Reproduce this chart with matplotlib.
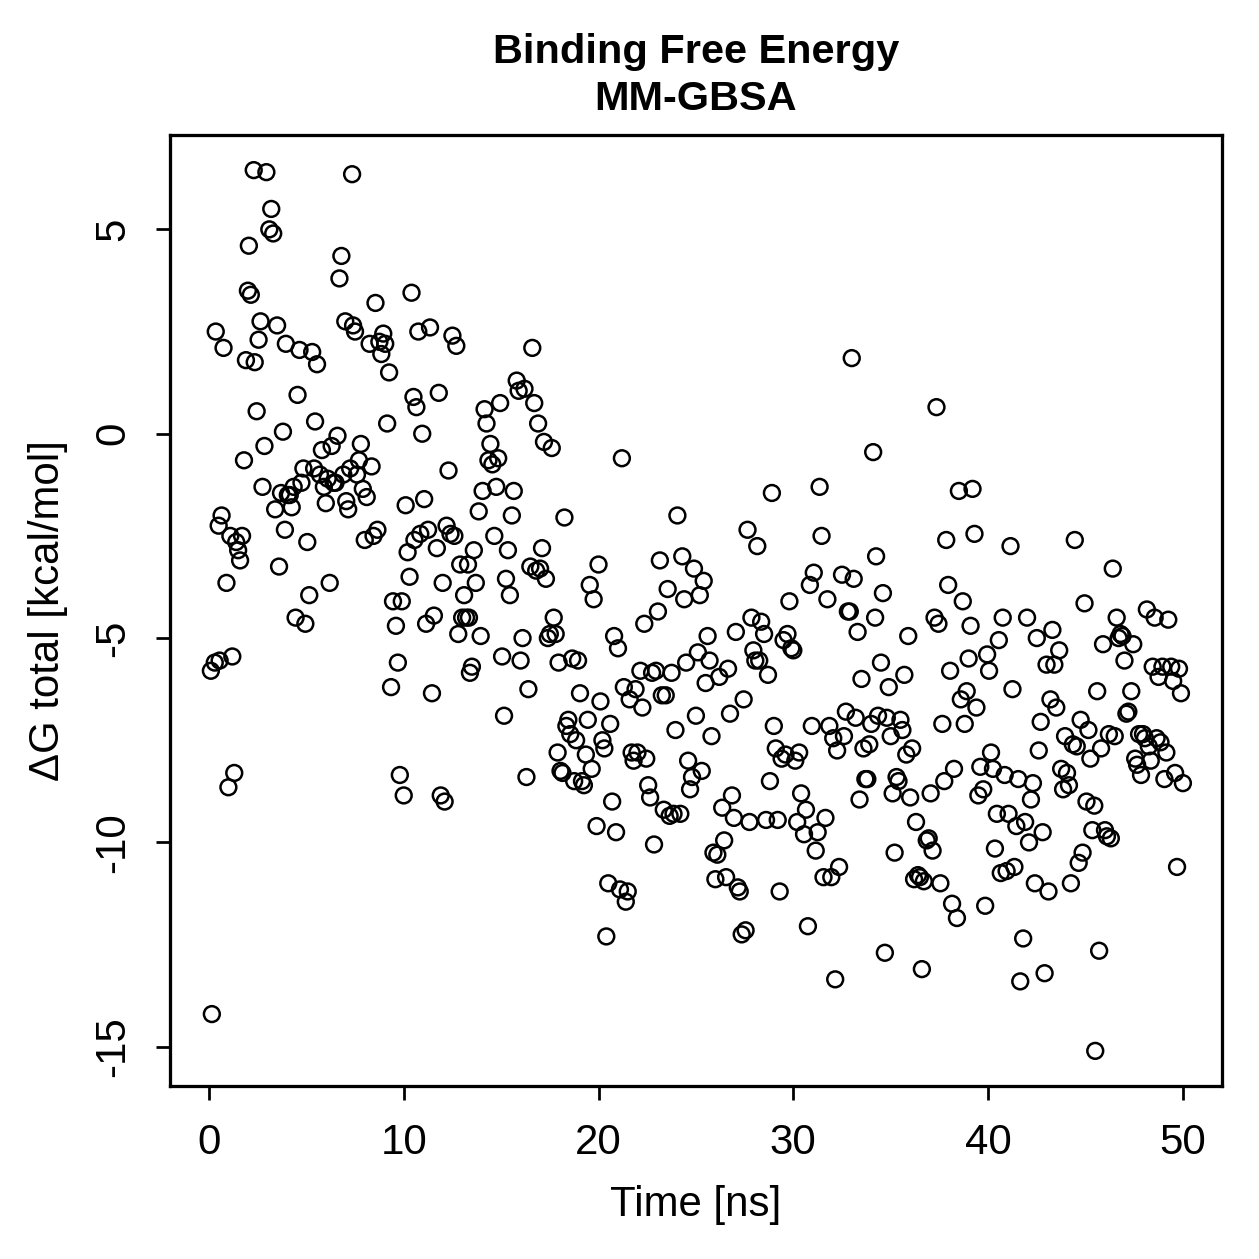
import numpy as np
import matplotlib
matplotlib.use("Agg")
from matplotlib import pyplot as plt

# time [ns] and dG total [kcal/mol]
time_ns = [
    0.1, 0.15, 0.3, 0.35, 0.5, 0.55, 0.65, 0.75, 0.9, 1.0, 1.1, 1.2, 1.3, 1.4, 1.5, 1.6, 1.7, 1.8, 1.9, 2.0,
    2.05, 2.15, 2.3, 2.35, 2.45, 2.55, 2.65, 2.75, 2.85, 2.95, 3.1, 3.2, 3.3, 3.4, 3.5, 3.6, 3.7, 3.8, 3.9, 3.95,
    4.05, 4.15, 4.25, 4.35, 4.45, 4.55, 4.65, 4.75, 4.85, 4.95, 5.05, 5.15, 5.3, 5.4, 5.45, 5.55, 5.7, 5.8, 5.9, 6.0,
    6.1, 6.2, 6.3, 6.4, 6.5, 6.6, 6.7, 6.8, 6.9, 7.0, 7.05, 7.15, 7.25, 7.35, 7.4, 7.5, 7.6, 7.7, 7.8, 7.9,
    8.0, 8.1, 8.25, 8.35, 8.45, 8.55, 8.65, 8.75, 8.85, 8.95, 9.05, 9.15, 9.25, 9.35, 9.45, 9.6, 9.7, 9.8, 9.9, 10.0,
    10.1, 10.2, 10.3, 10.4, 10.5, 10.55, 10.65, 10.75, 10.85, 10.95, 11.05, 11.15, 11.25, 11.35, 11.45, 11.55, 11.7, 11.8, 11.9, 12.0,
    12.1, 12.2, 12.3, 12.4, 12.5, 12.6, 12.7, 12.8, 12.9, 13.0, 13.1, 13.2, 13.3, 13.35, 13.4, 13.5, 13.6, 13.7, 13.85, 13.95,
    14.05, 14.15, 14.25, 14.35, 14.45, 14.55, 14.65, 14.75, 14.85, 14.95, 15.05, 15.15, 15.25, 15.35, 15.45, 15.55, 15.65, 15.8, 15.9, 16.0,
    16.1, 16.2, 16.3, 16.4, 16.5, 16.6, 16.7, 16.8, 16.9, 17.0, 17.1, 17.2, 17.3, 17.4, 17.5, 17.6, 17.7, 17.8, 17.9, 17.95,
    18.05, 18.15, 18.25, 18.35, 18.45, 18.55, 18.65, 18.75, 18.85, 18.95, 19.05, 19.15, 19.25, 19.35, 19.45, 19.55, 19.65, 19.75, 19.9, 20.0,
    20.1, 20.2, 20.3, 20.4, 20.5, 20.6, 20.7, 20.8, 20.9, 21.0, 21.1, 21.2, 21.3, 21.4, 21.5, 21.6, 21.7, 21.8, 21.9, 22.0,
    22.15, 22.25, 22.35, 22.45, 22.55, 22.65, 22.75, 22.85, 22.95, 23.05, 23.15, 23.25, 23.35, 23.45, 23.55, 23.65, 23.75, 23.85, 23.95, 24.05,
    24.2, 24.3, 24.4, 24.5, 24.6, 24.7, 24.8, 24.9, 25.0, 25.1, 25.2, 25.3, 25.4, 25.5, 25.6, 25.7, 25.8, 25.9, 26.0, 26.1,
    26.2, 26.35, 26.45, 26.55, 26.65, 26.75, 26.85, 26.95, 27.05, 27.15, 27.25, 27.35, 27.45, 27.55, 27.65, 27.75, 27.85, 27.95, 28.05, 28.15,
    28.25, 28.35, 28.5, 28.6, 28.7, 28.8, 28.9, 29.0, 29.1, 29.2, 29.3, 29.4, 29.5, 29.6, 29.7, 29.8, 29.9, 30.0, 30.1, 30.2,
    30.3, 30.4, 30.55, 30.65, 30.75, 30.85, 30.95, 31.05, 31.15, 31.25, 31.35, 31.45, 31.55, 31.65, 31.75, 31.85, 31.95, 32.05, 32.15, 32.25,
    32.35, 32.5, 32.6, 32.7, 32.8, 32.9, 33.0, 33.1, 33.2, 33.3, 33.4, 33.5, 33.6, 33.7, 33.8, 33.9, 34.0, 34.1, 34.2, 34.25,
    34.35, 34.5, 34.6, 34.7, 34.8, 34.9, 35.0, 35.1, 35.2, 35.3, 35.4, 35.5, 35.6, 35.7, 35.8, 35.9, 36.0, 36.1, 36.2, 36.3,
    36.4, 36.5, 36.6, 36.7, 36.85, 36.95, 37.05, 37.15, 37.25, 37.35, 37.45, 37.55, 37.65, 37.75, 37.85, 37.95, 38.05, 38.15, 38.25, 38.4,
    38.5, 38.6, 38.7, 38.8, 38.9, 39.0, 39.1, 39.2, 39.3, 39.4, 39.5, 39.6, 39.75, 39.85, 39.95, 40.05, 40.15, 40.25, 40.35, 40.45,
    40.55, 40.65, 40.75, 40.85, 40.95, 41.05, 41.15, 41.25, 41.35, 41.45, 41.55, 41.65, 41.8, 41.9, 42.0, 42.1, 42.2, 42.3, 42.4, 42.5,
    42.6, 42.7, 42.8, 42.9, 43.0, 43.1, 43.2, 43.3, 43.4, 43.5, 43.65, 43.75, 43.85, 43.95, 44.05, 44.15, 44.25, 44.35, 44.45, 44.55,
    44.65, 44.75, 44.85, 44.95, 45.05, 45.15, 45.25, 45.35, 45.45, 45.5, 45.6, 45.7, 45.8, 45.9, 46.0, 46.1, 46.2, 46.3, 46.4, 46.5,
    46.6, 46.7, 46.8, 46.9, 47.0, 47.1, 47.2, 47.35, 47.45, 47.55, 47.65, 47.75, 47.85, 47.95, 48.05, 48.15, 48.25, 48.35, 48.45, 48.55,
    48.65, 48.75, 48.85, 48.95, 49.05, 49.15, 49.25, 49.4, 49.5, 49.6, 49.7, 49.8, 49.9, 50.0,
]

dg_total = [
    -5.8, -14.2, -5.6, 2.5, -2.25, -5.55, -2.0, 2.1, -3.65, -8.65, -2.5, -5.45, -8.3, -2.65, -2.85, -3.1, -2.5, -0.65, 1.8, 3.5,
    4.6, 3.4, 6.45, 1.75, 0.55, 2.3, 2.75, -1.3, -0.3, 6.4, 5.0, 5.5, 4.9, -1.85, 2.65, -3.25, -1.45, 0.05, -2.35, 2.2,
    -1.5, -1.5, -1.8, -1.3, -4.5, 0.95, 2.05, -1.2, -0.85, -4.65, -2.65, -3.95, 2.0, -0.85, 0.3, 1.7, -1.0, -0.4, -1.3, -1.7,
    -1.1, -3.65, -0.3, -1.2, -1.2, -0.05, 3.8, 4.35, -1.0, 2.75, -1.65, -1.85, -0.85, 6.35, 2.65, 2.5, -1.0, -0.65, -0.25, -1.35,
    -2.6, -1.55, 2.2, -0.8, -2.5, 3.2, -2.35, 2.25, 1.95, 2.45, 2.2, 0.25, 1.5, -6.2, -4.1, -4.7, -5.6, -8.35, -4.1, -8.85,
    -1.75, -2.9, -3.5, 3.45, 0.9, -2.6, 0.65, 2.5, -2.45, 0.0, -1.6, -4.65, -2.35, 2.6, -6.35, -4.45, -2.8, 1.0, -8.85, -3.65,
    -9.0, -2.25, -0.9, -2.45, 2.4, -2.5, 2.15, -4.9, -3.2, -4.5, -3.95, -4.5, -3.2, -4.5, -5.85, -5.7, -2.85, -3.65, -1.9, -4.95,
    -1.4, 0.6, 0.25, -0.65, -0.25, -0.75, -2.5, -1.3, -0.6, 0.75, -5.45, -6.9, -3.55, -2.85, -3.95, -2.0, -1.4, 1.3, 1.05, -5.55,
    -5.0, 1.1, -8.4, -6.25, -3.25, 2.1, 0.75, -3.35, 0.25, -3.3, -2.8, -0.2, -3.55, -5.0, -4.9, -0.35, -4.5, -4.9, -7.8, -5.6,
    -8.25, -8.3, -2.05, -7.15, -7.0, -7.35, -5.5, -8.5, -7.5, -5.55, -6.35, -8.5, -8.6, -7.85, -7.0, -3.7, -8.2, -4.05, -9.6, -3.2,
    -6.55, -7.5, -7.7, -12.3, -11.0, -7.1, -9.0, -4.95, -9.75, -5.25, -11.15, -0.6, -6.2, -11.45, -11.2, -6.5, -7.8, -8.0, -6.25, -7.8,
    -5.8, -6.7, -4.65, -7.95, -8.6, -8.9, -5.85, -10.05, -5.8, -4.35, -3.1, -6.4, -9.2, -6.4, -3.8, -9.35, -5.85, -9.3, -7.25, -2.0,
    -9.3, -3.0, -4.05, -5.6, -8.0, -8.7, -8.4, -3.3, -6.9, -5.35, -3.95, -8.25, -3.6, -6.1, -4.95, -5.55, -7.4, -10.25, -10.9, -10.3,
    -5.95, -9.15, -9.95, -10.85, -5.75, -6.85, -8.85, -9.4, -4.85, -11.1, -11.2, -12.25, -6.5, -12.15, -2.35, -9.5, -4.5, -5.3, -5.55, -2.75,
    -5.55, -4.6, -4.9, -9.45, -5.9, -8.5, -1.45, -7.15, -7.7, -9.45, -11.2, -7.95, -5.05, -7.85, -4.9, -4.1, -5.25, -5.3, -8.0, -9.5,
    -7.8, -8.8, -9.8, -9.2, -12.05, -3.7, -7.15, -3.4, -10.2, -9.75, -1.3, -2.5, -10.85, -9.4, -4.05, -7.15, -10.85, -7.45, -13.35, -7.75,
    -10.6, -3.45, -7.4, -6.8, -4.35, -4.35, 1.85, -3.55, -6.95, -4.85, -8.95, -6.0, -7.7, -8.45, -8.45, -7.6, -7.1, -0.45, -4.5, -3.0,
    -6.9, -5.6, -3.9, -12.7, -6.95, -6.2, -7.4, -8.8, -10.25, -8.4, -8.5, -7.0, -7.25, -5.9, -7.85, -4.95, -8.9, -7.7, -10.9, -9.5,
    -10.8, -10.85, -13.1, -10.95, -9.95, -9.9, -8.8, -10.2, -4.5, 0.65, -4.65, -11.0, -7.1, -8.5, -2.6, -3.7, -5.8, -11.5, -8.2, -11.85,
    -1.4, -6.5, -4.1, -7.1, -6.3, -5.5, -4.7, -1.35, -2.45, -6.7, -8.85, -8.15, -8.7, -11.55, -5.4, -5.8, -7.8, -8.2, -10.15, -9.3,
    -5.05, -10.75, -4.5, -8.35, -10.7, -9.3, -2.75, -6.25, -10.6, -9.6, -8.45, -13.4, -12.35, -9.5, -4.5, -10.0, -8.95, -8.55, -11.0, -5.0,
    -7.75, -7.05, -9.75, -13.2, -5.65, -11.2, -6.5, -4.8, -5.65, -6.7, -5.3, -8.2, -8.7, -7.4, -8.3, -8.6, -11.0, -7.6, -2.6, -7.65,
    -10.5, -7.0, -10.25, -4.15, -9.0, -7.25, -7.95, -9.7, -9.1, -15.1, -6.3, -12.65, -7.7, -5.15, -9.7, -9.85, -7.35, -9.9, -3.3, -7.4,
    -4.5, -5.0, -4.9, -4.95, -5.55, -6.85, -6.8, -6.3, -5.15, -7.95, -8.1, -7.35, -8.35, -7.35, -7.45, -4.3, -7.65, -8.0, -5.7, -4.5,
    -7.45, -5.95, -7.55, -5.7, -8.45, -7.8, -4.55, -5.7, -6.05, -8.3, -10.6, -5.75, -6.35, -8.55,
]

x_ticks = [0, 10, 20, 30, 40, 50]
y_ticks = [-15, -10, -5, 0, 5]

plt.rcParams['font.family'] = ['Liberation Sans', 'DejaVu Sans']

fig = plt.figure(figsize=(1259 / 180, 1259 / 180), dpi=180)
ax = fig.add_axes([0.135, 0.1374, 0.8355, 0.7554])

ax.scatter(time_ns, dg_total, s=40, facecolors='none', edgecolors='black', linewidths=1.0)

ax.set_xlim(-2, 52)
ax.set_ylim(-15.96, 7.31)
ax.set_xticks(x_ticks)
ax.set_yticks(y_ticks)
ax.set_yticklabels([str(v) for v in y_ticks], rotation=90, va='center')
ax.tick_params(direction='out', length=5.6, width=1.1, labelsize=16.8, pad=9)
for side in ax.spines.values():
    side.set_linewidth(1.3)

ax.set_xlabel("Time [ns]", fontsize=16.8, labelpad=9)
ax.set_ylabel("ΔG total [kcal/mol]", fontsize=16.8, labelpad=10)
ax.set_title("Binding Free Energy\nMM-GBSA", fontsize=16.6, fontweight='bold', pad=10, linespacing=1.3)

fig.savefig("out.png", dpi=180)
